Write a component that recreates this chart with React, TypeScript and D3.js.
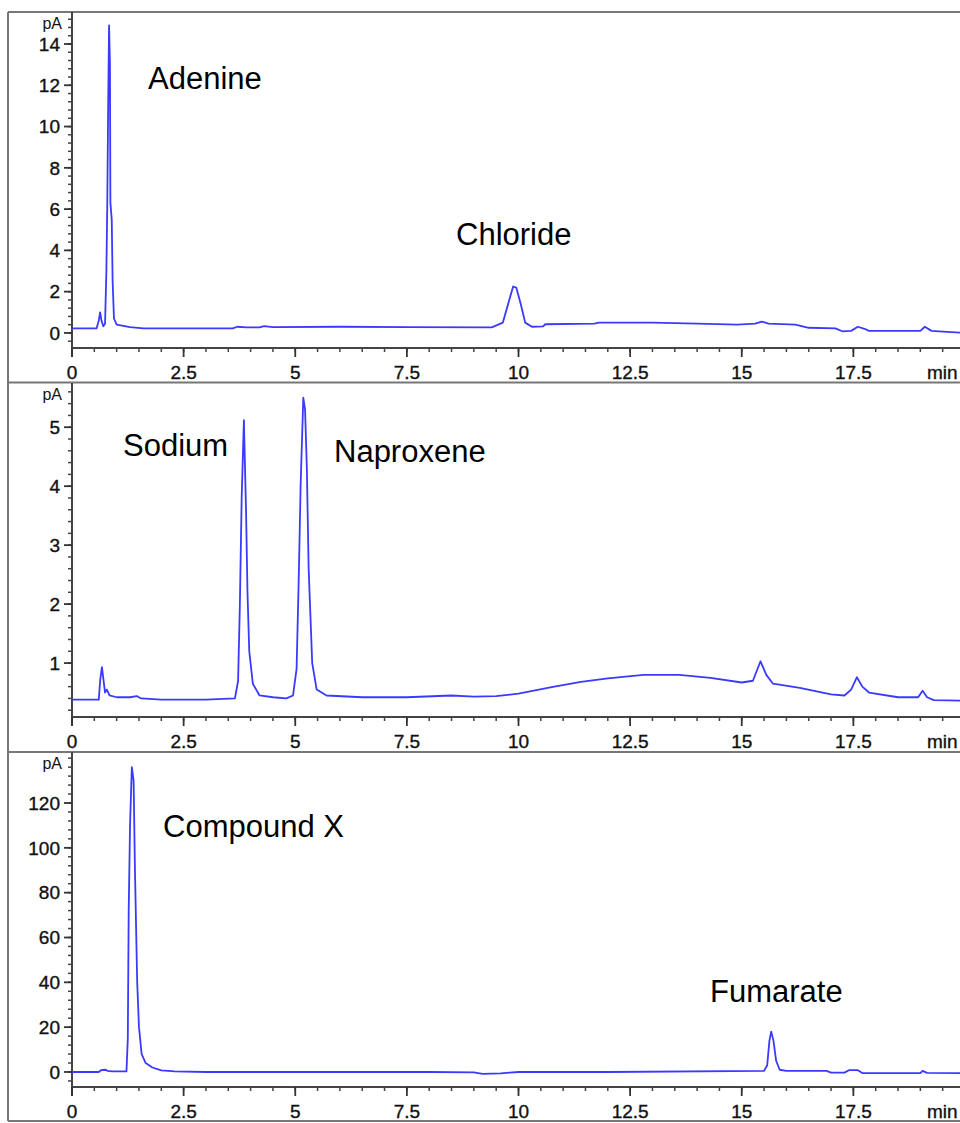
import React from "react";
import * as d3 from "d3";

// ---- Data (time in min, signal in pA) ----
const xTickValues = [0, 2.5, 5, 7.5, 10, 12.5, 15, 17.5];
const xTickLabels = ["0", "2.5", "5", "7.5", "10", "12.5", "15", "17.5"];

const trace1: [number, number][] = [
  [0, 0.22], [0.55, 0.22], [0.6, 0.6], [0.63, 1.0], [0.66, 0.6], [0.7, 0.32], [0.74, 0.45],
  [0.77, 3], [0.79, 6.2], [0.81, 11], [0.83, 14.9], [0.85, 13], [0.86, 6.3], [0.89, 5.5],
  [0.91, 2.5], [0.94, 0.7], [1.0, 0.4], [1.3, 0.28], [1.6, 0.22], [3.6, 0.22], [3.7, 0.3],
  [3.9, 0.27], [4.2, 0.27], [4.3, 0.33], [4.5, 0.28], [6, 0.3], [7.5, 0.28], [9.4, 0.27],
  [9.65, 0.5], [9.78, 1.5], [9.88, 2.25], [9.95, 2.2], [10.05, 1.4], [10.15, 0.5], [10.3, 0.3],
  [10.55, 0.32], [10.6, 0.42], [11.7, 0.45], [11.8, 0.5], [13, 0.5], [14, 0.45], [14.9, 0.4],
  [15.3, 0.45], [15.45, 0.55], [15.6, 0.45], [16.2, 0.4], [16.5, 0.25], [17.1, 0.22],
  [17.25, 0.08], [17.45, 0.1], [17.6, 0.3], [17.75, 0.2], [17.85, 0.1], [19.0, 0.1],
  [19.1, 0.3], [19.25, 0.1], [19.6, 0.05], [20, 0.0],
];

const trace2: [number, number][] = [
  [0, 0.38], [0.6, 0.38], [0.63, 0.7], [0.67, 0.93], [0.7, 0.75], [0.74, 0.5], [0.78, 0.55],
  [0.84, 0.45], [1.0, 0.42], [1.3, 0.42], [1.45, 0.44], [1.55, 0.4], [2.0, 0.38], [3.0, 0.38],
  [3.65, 0.4], [3.72, 0.7], [3.76, 2], [3.8, 3.8], [3.85, 5.12], [3.9, 3.5], [3.93, 2.2],
  [3.97, 1.2], [4.05, 0.65], [4.2, 0.45], [4.5, 0.42], [4.8, 0.4], [4.95, 0.45], [5.03, 0.9],
  [5.08, 2.5], [5.12, 4.0], [5.18, 5.5], [5.22, 5.3], [5.26, 4.3], [5.3, 2.6], [5.38, 1.0],
  [5.48, 0.55], [5.7, 0.45], [6.5, 0.42], [7.5, 0.42], [8.5, 0.45], [9.0, 0.43], [9.5, 0.44],
  [10, 0.48], [10.8, 0.6], [11.4, 0.68], [12, 0.74], [12.8, 0.8], [13.6, 0.8], [14.3, 0.75],
  [15.0, 0.67], [15.25, 0.7], [15.42, 1.03], [15.55, 0.8], [15.7, 0.65], [16.3, 0.58],
  [17.0, 0.47], [17.3, 0.45], [17.45, 0.55], [17.58, 0.76], [17.7, 0.6], [17.85, 0.5],
  [18.5, 0.42], [18.95, 0.42], [19.05, 0.53], [19.15, 0.42], [19.3, 0.37], [20, 0.36],
];

const trace3: [number, number][] = [
  [0, 0.0], [0.6, 0.0], [0.65, 0.8], [0.75, 1.0], [0.8, 0.5], [0.9, 0.3], [1.22, 0.3],
  [1.25, 15], [1.27, 72], [1.3, 110], [1.34, 136], [1.38, 130], [1.41, 90], [1.43, 70],
  [1.46, 40], [1.5, 20], [1.56, 8], [1.65, 4], [1.8, 2], [2.0, 0.7], [2.3, 0.3], [3, 0],
  [8, 0], [9.0, -0.2], [9.2, -0.8], [9.6, -0.6], [9.8, -0.3], [10, 0], [12, 0], [15.5, 0.5],
  [15.57, 3], [15.62, 14], [15.66, 18], [15.71, 14], [15.77, 5], [15.85, 1.0], [16, 0.5],
  [16.9, 0.5], [17.0, -0.3], [17.3, -0.3], [17.4, 0.8], [17.6, 0.8], [17.7, -0.5], [19, -0.5],
  [19.05, 0.5], [19.15, -0.4], [20, -0.5],
];

const yTicks1 = [0, 2, 4, 6, 8, 10, 12, 14];
const yTicks2 = [1, 2, 3, 4, 5];
const yTicks3 = [0, 20, 40, 60, 80, 100, 120];

const labels1 = [
  { text: "Adenine", x: 148, y: 89 },
  { text: "Chloride", x: 456, y: 245 },
];
const labels2 = [
  { text: "Sodium", x: 123, y: 456 },
  { text: "Naproxene", x: 334, y: 462 },
];
const labels3 = [
  { text: "Compound X", x: 163, y: 837 },
  { text: "Fumarate", x: 710, y: 1002 },
];

const FONT = "'Liberation Sans', Arial, Helvetica, sans-serif";
const X0 = 72;
const X1 = 965;
const LINE_COLOR = "#3a3aff";

type PanelProps = {
  trace: [number, number][];
  yDomain: [number, number];
  yRange: [number, number];
  yTicks: number[];
  yMinorStep: number;
  labels: { text: string; x: number; y: number }[];
  top: number;
};

function Panel({ trace, yDomain, yRange, yTicks, yMinorStep, labels, top }: PanelProps) {
  const x = d3.scaleLinear().domain([0, 20]).range([X0, X1]);
  const y = d3.scaleLinear().domain(yDomain).range(yRange);
  const axisY = yRange[0];
  const line = d3
    .line<[number, number]>()
    .x((d) => x(d[0]))
    .y((d) => y(d[1]));

  const xMinor = d3.range(0, 20.001, 0.5);
  const yMinorStart = Math.ceil(yDomain[0] / yMinorStep) * yMinorStep;
  const yMinor = d3.range(yMinorStart, yDomain[1], yMinorStep);

  return (
    <g>
      {/* y axis */}
      <line x1={X0} x2={X0} y1={top} y2={axisY + 9} stroke="#444" strokeWidth={2} />
      {yMinor.map((v, i) => (
        <line key={"ym" + i} x1={X0 - 4} x2={X0} y1={y(v)} y2={y(v)} stroke="#444" strokeWidth={1.5} />
      ))}
      {yTicks.map((v) => (
        <g key={"yt" + v}>
          <line x1={X0 - 8} x2={X0} y1={y(v)} y2={y(v)} stroke="#333" strokeWidth={1.8} />
          <text x={60} y={y(v)} dy="0.36em" textAnchor="end" fontSize={19} fontFamily={FONT} fill="#111" stroke="#111" strokeWidth={0.35}>
            {v}
          </text>
        </g>
      ))}
      <text x={62} y={top + 17} textAnchor="end" fontSize={16} fontFamily={FONT} fill="#111">
        pA
      </text>
      {/* x axis */}
      <line x1={X0} x2={X1} y1={axisY} y2={axisY} stroke="#444" strokeWidth={2} />
      {xMinor.map((v, i) => (
        <line key={"xm" + i} x1={x(v)} x2={x(v)} y1={axisY} y2={axisY + 4} stroke="#444" strokeWidth={1.5} />
      ))}
      {xTickValues.map((v, i) => (
        <g key={"xt" + v}>
          <line x1={x(v)} x2={x(v)} y1={axisY} y2={axisY + 9} stroke="#333" strokeWidth={1.8} />
          <text x={x(v)} y={axisY + 31} textAnchor="middle" fontSize={19} fontFamily={FONT} fill="#111" stroke="#111" strokeWidth={0.35}>
            {xTickLabels[i]}
          </text>
        </g>
      ))}
      <text x={927} y={axisY + 31} fontSize={19} fontFamily={FONT} fill="#111" stroke="#111" strokeWidth={0.35}>
        min
      </text>
      {/* trace */}
      <path d={line(trace) || ""} fill="none" stroke={LINE_COLOR} strokeWidth={1.8} strokeLinejoin="round" />
      {labels.map((l) => (
        <text key={l.text} x={l.x} y={l.y} fontSize={31} fontFamily={FONT} fill="#000">
          {l.text}
        </text>
      ))}
    </g>
  );
}

export default function App() {
  return (
    <svg
      width={960}
      height={1123}
      style={{ position: "absolute", left: 0, top: 0, background: "#fff" }}
    >
      <rect x={0} y={0} width={960} height={1123} fill="#fff" />
      {/* frame */}
      <line x1={8} x2={8} y1={12} y2={1121} stroke="#777" strokeWidth={2} />
      <line x1={8} x2={960} y1={12} y2={12} stroke="#777" strokeWidth={2} />
      <line x1={8} x2={960} y1={382.5} y2={382.5} stroke="#777" strokeWidth={2} />
      <line x1={8} x2={960} y1={752} y2={752} stroke="#777" strokeWidth={2} />
      <line x1={8} x2={960} y1={1121} y2={1121} stroke="#777" strokeWidth={2} />

      <Panel trace={trace1} yDomain={[-0.73, 15.55]} yRange={[348, 12]} yTicks={yTicks1} yMinorStep={0.4} labels={labels1} top={12} />
      <Panel trace={trace2} yDomain={[0.085, 5.75]} yRange={[717, 383]} yTicks={yTicks2} yMinorStep={0.2} labels={labels2} top={383} />
      <Panel trace={trace3} yDomain={[-6.7, 142.75]} yRange={[1087, 752]} yTicks={yTicks3} yMinorStep={4} labels={labels3} top={752} />
    </svg>
  );
}
